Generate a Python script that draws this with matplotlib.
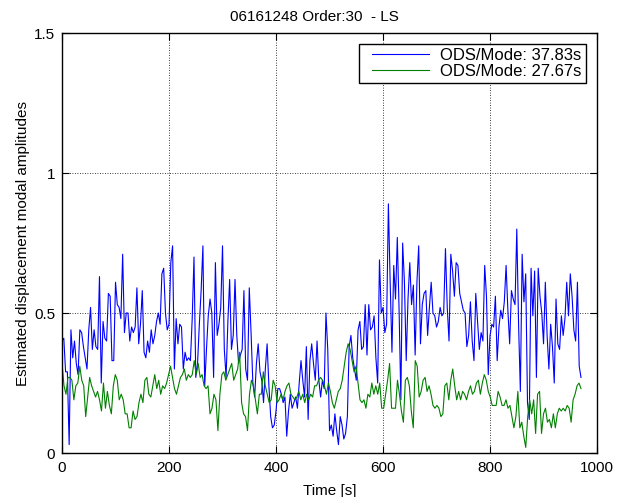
import numpy as np
import matplotlib
matplotlib.use("Agg")
import matplotlib.pyplot as plt
from matplotlib.legend_handler import HandlerLine2D

plt.rcParams['font.family'] = ['Liberation Sans', 'DejaVu Sans']

T_END = 970.0

# Modal amplitude, mode at 37.83 s
amp_mode1 = [
    0.40, 0.41, 0.29, 0.29, 0.03, 0.44, 0.34, 0.40, 0.32, 0.28, 0.44, 0.43, 0.38, 0.34, 0.30,
    0.44, 0.52, 0.37, 0.44, 0.38, 0.37, 0.63, 0.25, 0.47, 0.41, 0.40, 0.57, 0.56, 0.33, 0.33,
    0.61, 0.53, 0.52, 0.48, 0.71, 0.43, 0.50, 0.50, 0.40, 0.45, 0.43, 0.45, 0.59,
    0.39, 0.46, 0.58, 0.36, 0.34, 0.40, 0.36, 0.44, 0.39, 0.42, 0.47, 0.50, 0.46, 0.64, 0.66,
    0.50, 0.44, 0.46, 0.68, 0.74, 0.30, 0.48, 0.39, 0.46, 0.45, 0.30, 0.36, 0.33, 0.34, 0.33,
    0.48, 0.70, 0.27, 0.32, 0.46, 0.58, 0.74, 0.24, 0.37, 0.49, 0.55, 0.50, 0.27, 0.68,
    0.42, 0.46, 0.52, 0.74, 0.37, 0.27, 0.47, 0.62, 0.37, 0.42, 0.62, 0.42, 0.32, 0.35, 0.37,
    0.58, 0.30, 0.26, 0.59, 0.43, 0.25, 0.20, 0.32, 0.39, 0.29, 0.26, 0.18, 0.30, 0.39, 0.24,
    0.13, 0.09, 0.10, 0.15, 0.23, 0.23, 0.21, 0.18, 0.20, 0.06, 0.15, 0.21, 0.16, 0.18,
    0.20, 0.16, 0.25, 0.33, 0.26, 0.20, 0.38, 0.12, 0.33, 0.39, 0.32, 0.26, 0.40, 0.26, 0.20,
    0.26, 0.23, 0.50, 0.37, 0.08, 0.10, 0.06, 0.14, 0.08, 0.03, 0.13, 0.10, 0.05, 0.07, 0.13,
    0.38, 0.42, 0.34, 0.30, 0.26, 0.44, 0.47, 0.37, 0.38, 0.53, 0.35, 0.53, 0.44, 0.45,
    0.49, 0.34, 0.25, 0.69, 0.50, 0.52, 0.43, 0.46, 0.89, 0.61, 0.36, 0.67, 0.55, 0.77, 0.51,
    0.19, 0.75, 0.61, 0.33, 0.55, 0.68, 0.53, 0.60, 0.35, 0.61, 0.74, 0.39, 0.53, 0.57, 0.58,
    0.42, 0.52, 0.61, 0.50, 0.49, 0.45, 0.47, 0.52, 0.49, 0.50, 0.73, 0.52, 0.40, 0.71,
    0.65, 0.56, 0.68, 0.67, 0.57, 0.54, 0.51, 0.50, 0.38, 0.42, 0.54, 0.40, 0.33, 0.57, 0.47,
    0.37, 0.43, 0.40, 0.67, 0.56, 0.28, 0.42, 0.46, 0.45, 0.56, 0.33, 0.45, 0.51, 0.48, 0.54,
    0.67, 0.51, 0.39, 0.58, 0.55, 0.53, 0.80, 0.46, 0.22, 0.71, 0.54, 0.64, 0.18,
    0.12, 0.66, 0.49, 0.65, 0.27, 0.66, 0.56, 0.50, 0.39, 0.61, 0.42, 0.30, 0.46, 0.38, 0.25,
    0.55, 0.39, 0.37, 0.49, 0.42, 0.48, 0.61, 0.49, 0.64, 0.56, 0.44, 0.40, 0.61, 0.31, 0.27,
]

# Modal amplitude, mode at 27.67 s
amp_mode2 = [
    0.32, 0.24, 0.21, 0.27, 0.27, 0.26, 0.19, 0.24, 0.25, 0.31,
    0.26, 0.24, 0.13, 0.20, 0.27, 0.24, 0.22, 0.20, 0.22, 0.19,
    0.15, 0.25, 0.16, 0.22, 0.17, 0.14, 0.24, 0.28, 0.26, 0.19,
    0.21, 0.19, 0.14, 0.14, 0.09, 0.09, 0.15, 0.12, 0.13, 0.18,
    0.21, 0.18, 0.26, 0.27, 0.21, 0.20, 0.24, 0.28, 0.23, 0.26,
    0.21, 0.24, 0.23, 0.25, 0.28, 0.31, 0.27, 0.23, 0.21, 0.24,
    0.27, 0.28, 0.30, 0.26, 0.28, 0.27, 0.28, 0.33, 0.28, 0.32,
    0.27, 0.28, 0.24, 0.23, 0.24, 0.14, 0.16, 0.21, 0.19, 0.08,
    0.21, 0.28, 0.29, 0.26, 0.28, 0.30, 0.32, 0.26, 0.28, 0.30,
    0.36, 0.18, 0.14,
    0.13, 0.08, 0.21, 0.26, 0.24, 0.19, 0.14, 0.21, 0.21, 0.29,
    0.24, 0.21, 0.18, 0.19, 0.26, 0.24, 0.18, 0.19, 0.21, 0.19,
    0.22, 0.24, 0.25, 0.21, 0.20, 0.19, 0.20, 0.22, 0.19, 0.21,
    0.18, 0.21, 0.19, 0.21, 0.20, 0.24, 0.24, 0.26, 0.27, 0.26,
    0.24, 0.21, 0.25, 0.22, 0.18, 0.16, 0.19, 0.22, 0.23, 0.26,
    0.31, 0.36, 0.39, 0.37, 0.33, 0.29, 0.31, 0.25, 0.19, 0.18,
    0.19, 0.16, 0.21, 0.20, 0.25, 0.21, 0.24, 0.21, 0.25, 0.16,
    0.16, 0.21, 0.26, 0.32, 0.16, 0.16, 0.16, 0.26, 0.21, 0.15,
    0.11, 0.26, 0.27, 0.24,
    0.15, 0.09, 0.33, 0.31, 0.20, 0.22, 0.26, 0.27, 0.22, 0.24,
    0.21, 0.17, 0.16, 0.17, 0.16, 0.13, 0.14, 0.24, 0.25, 0.19,
    0.26, 0.30, 0.24, 0.19, 0.22, 0.19, 0.22, 0.21, 0.19, 0.22,
    0.24, 0.21, 0.22, 0.25, 0.26, 0.21, 0.25, 0.28, 0.26, 0.22,
    0.20, 0.17, 0.17, 0.17, 0.22, 0.20, 0.17, 0.17, 0.19, 0.16,
    0.17, 0.13, 0.09, 0.13, 0.22, 0.09, 0.11, 0.06, 0.02, 0.13,
    0.19, 0.14, 0.19, 0.07, 0.21, 0.22, 0.07, 0.14, 0.16, 0.11,
    0.12, 0.09, 0.14, 0.09, 0.14, 0.16, 0.15, 0.16, 0.15, 0.17,
    0.16, 0.11, 0.19, 0.21, 0.24, 0.25, 0.23,
]

labels = ["ODS/Mode: 37.83s", "ODS/Mode: 27.67s"]
colors = ["#0000ff", "#008000"]
x_ticks = [0, 200, 400, 600, 800, 1000]
y_ticks = [0, 0.5, 1, 1.5]
y_tick_labels = ["0", "0.5", "1", "1.5"]

FS = 11

t1 = np.linspace(0, T_END, len(amp_mode1))
t2 = np.linspace(0, T_END, len(amp_mode2))

fig = plt.figure(figsize=(6.29, 4.97), dpi=100)
ax = fig.add_axes([0.0986, 0.0885, 0.8506, 0.845])

ax.plot(t1, amp_mode1, color=colors[0], lw=0.8, label=labels[0])
ax.plot(t2, amp_mode2, color=colors[1], lw=0.8, label=labels[1])

ax.set_xlim(0, 1000)
ax.set_ylim(0, 1.5)
ax.set_xticks(x_ticks)
ax.set_yticks(y_ticks)
ax.set_yticklabels(y_tick_labels)
ax.tick_params(direction='in', top=True, right=True, length=5, width=0.8,
               labelsize=FS, colors='black')
ax.tick_params(axis='x', pad=6)
ax.tick_params(axis='y', pad=5)
ax.grid(True, color='black', linestyle=(0, (1, 2)), linewidth=0.6)
for s in ax.spines.values():
    s.set_linewidth(1.0)
    s.set_color('black')

ax.set_xlabel("Time [s]", fontsize=FS, labelpad=6)
ax.set_ylabel("Estimated displacement modal amplitudes", fontsize=FS, labelpad=3)
fig.text(0.5, 0.965, "06161248 Order:30  - LS", fontsize=FS,
         ha='center', va='center')

# legend line samples start a little inside the frame
inset_handler = HandlerLine2D(xpad=0.54)
leg = ax.legend(loc='upper right', bbox_to_anchor=(0.979, 0.975), fontsize=12,
                fancybox=False, framealpha=1, edgecolor='black', borderaxespad=0,
                handlelength=4.0, handletextpad=0.65, borderpad=0.25, labelspacing=0.05,
                handler_map={ln: inset_handler for ln in ax.get_lines()})
leg.get_frame().set_linewidth(1.0)

fig.savefig("out.png", dpi=100)
